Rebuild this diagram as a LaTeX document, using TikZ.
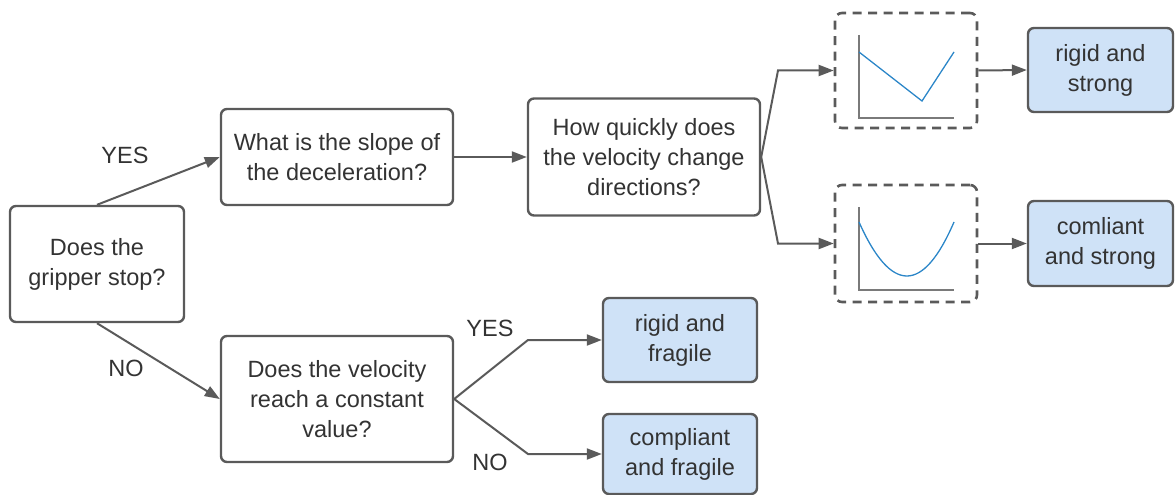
\documentclass[tikz,border=0pt]{standalone}
\usepackage{fontspec}
\setmainfont{Liberation Sans}
\usetikzlibrary{arrows.meta}
\definecolor{edgegray}{HTML}{5A5A5A}
\definecolor{txtgray}{HTML}{333333}
\definecolor{leafblue}{HTML}{CFE2F7}
\definecolor{plotblue}{HTML}{2B86C8}
\definecolor{axisgray}{HTML}{7A7A7A}
\tikzset{
  box/.style={draw=edgegray, line width=2.4pt, rounded corners=6pt, fill=white,
    inner sep=0pt, align=center, text=txtgray,
    font=\fontsize{23.5}{30}\selectfont},
  leaf/.style={box, fill=leafblue},
  plotbox/.style={draw=edgegray, line width=2.6pt, rounded corners=7pt,
    dash pattern=on 9pt off 6.5pt, inner sep=0pt},
  conn/.style={draw=edgegray, line width=2pt, -{Triangle[length=15pt,width=11pt]}},
  lbl/.style={text=txtgray, font=\fontsize{23.5}{30}\selectfont, inner sep=0pt},
  curve/.style={draw=plotblue, line width=1.3pt},
  axis/.style={draw=axisgray, line width=1.5pt}
}
\begin{document}
\begin{tikzpicture}[x=1pt,y=-1pt]
\useasboundingbox (0,0) rectangle (1175,495);
% main boxes
\node[box, minimum width=174pt, minimum height=116pt] (A) at (97,264) {Does the\\gripper stop?};
\node[box, minimum width=232pt, minimum height=96pt] (B) at (337,157) {What is the slope of\\the deceleration?};
\node[box, minimum width=232pt, minimum height=126pt] (C) at (337,399) {Does the velocity\\reach a constant\\value?};
\node[box, minimum width=232pt, minimum height=117pt] (D) at (644,157) {How quickly does\\the velocity change\\directions?};
% plot boxes
\node[plotbox, minimum width=142pt, minimum height=115pt] (P1) at (906,70.5) {};
\node[plotbox, minimum width=142pt, minimum height=117pt] (P2) at (906,243.5) {};
% leaves
\node[leaf, minimum width=145pt, minimum height=84pt] (RS) at (1100.5,70) {rigid and\\strong};
\node[leaf, minimum width=145pt, minimum height=85pt] (CS) at (1100.5,243.5) {comliant\\and strong};
\node[leaf, minimum width=154pt, minimum height=84pt] (RF) at (680,340) {rigid and\\fragile};
\node[leaf, minimum width=154pt, minimum height=80pt] (CF) at (680,454) {compliant\\and fragile};
% plot contents
\draw[axis] (859,35) -- (859,118) -- (954,118);
\draw[curve] (859,52) -- (922,101) -- (954,52);
\draw[axis] (859,207) -- (859,290) -- (954,290);
\draw[curve] (859,222) .. controls (891,294) and (923,294) .. (954,222);
% bend points
\coordinate (k1) at (778,70.5);
\coordinate (k2) at (778,243.5);
\coordinate (k3) at (528,340);
\coordinate (k4) at (528,454);
% connectors
\draw[conn] (A.north) -- (B.west);
\draw[conn] (A.south) -- (C.west);
\draw[conn] (B.east) -- (D.west);
\draw[conn] (D.east) -- (k1) -- (P1.west);
\draw[conn] (D.east) -- (k2) -- (P2.west);
\draw[conn] (P1.east) -- (RS.west);
\draw[conn] (P2.east) -- (CS.west);
\draw[conn] (C.east) -- (k3) -- (RF.west);
\draw[conn] (C.east) -- (k4) -- (CF.west);
% labels
\node[lbl] (l1) at (125,155) {YES};
\node[lbl] (l2) at (126,368) {NO};
\node[lbl] (l3) at (490,328) {YES};
\node[lbl] (l4) at (490,462) {NO};
\end{tikzpicture}
\end{document}
